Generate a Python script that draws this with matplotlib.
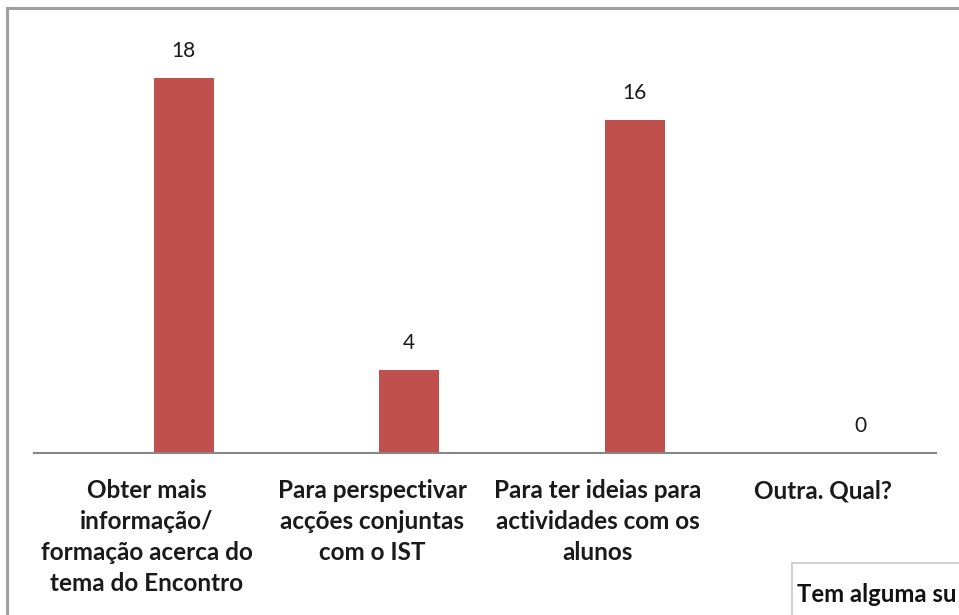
import matplotlib
matplotlib.use("Agg")
import matplotlib.pyplot as plt
from matplotlib.patches import Rectangle
from matplotlib.lines import Line2D

categories = ["Obter mais\ninformação/\nformação acerca do\ntema do Encontro",
              "Para perspectivar\nacções conjuntas\ncom o IST",
              "Para ter ideias para\nactividades com os\nalunos",
              "Outra. Qual?"]
values = [18, 4, 16, 0]

W, H = 959, 615
fig = plt.figure(figsize=(W / 100, H / 100), dpi=100)
fig.patch.set_facecolor("white")

# outer chart frame (partially cropped)
fig.add_artist(Line2D([7 / W, 7 / W], [0, 1 - 8 / H], color="#a0a0a0", lw=2.2))
fig.add_artist(Line2D([7 / W, 1.0], [1 - 8 / H, 1 - 8 / H], color="#a0a0a0", lw=2.2))

ax = fig.add_axes([34 / W, (H - 453) / H, (936 - 34) / W, 416.7 / H])
ax.set_xlim(-0.5, 3.5)
ax.set_ylim(0, 20)

xs = list(range(len(categories)))
bx = [x + 0.164 for x in xs]
bars = ax.bar(bx, values, width=0.266, color="#C0504D", zorder=2)
for x, v in zip(bx, values):
    ax.annotate(str(v), (x, v), xytext=(0, 12), textcoords="offset points",
                ha="center", va="bottom", fontsize=15, family="Lato", color="#1a1a1a")

for s in ["top", "right", "left"]:
    ax.spines[s].set_visible(False)
ax.spines["bottom"].set_color("#868686")
ax.spines["bottom"].set_linewidth(1.5)
ax.set_yticks([])
ax.set_xticks(xs)
ax.set_xticklabels(categories, fontsize=17.5, family="Lato", fontweight="bold",
                   linespacing=1.42, va="top", ha="center", color="#1a1a1a")
ax.tick_params(axis="x", length=0, pad=19)

# partially visible text box at bottom right
fig.add_artist(Rectangle((792 / W, -0.05), 1, (H - 563) / H + 0.05, transform=fig.transFigure,
                         facecolor="white", edgecolor="#c8c8c8", lw=1.2))
fig.text(797 / W, (H - 602) / H, "Tem alguma su", fontsize=17.2, family="Lato",
         fontweight="bold", color="#111111", ha="left", va="baseline")

fig.savefig("out.png", dpi=100)
